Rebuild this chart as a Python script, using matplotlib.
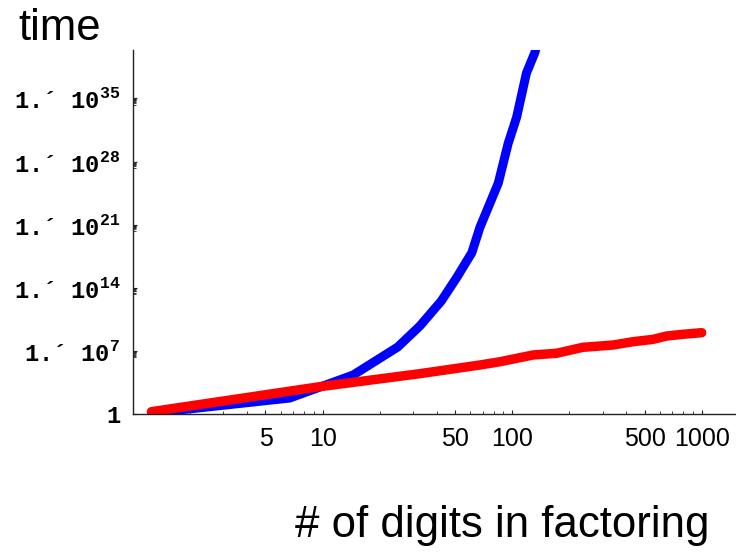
import numpy as np
import matplotlib
matplotlib.use("Agg")
import matplotlib.pyplot as plt
from matplotlib.ticker import FixedLocator, FuncFormatter, NullFormatter

# blue curve (exponential-ish growth)
blue_digits = [1.25, 6.7, 14.5, 24.9, 32.6, 42.3, 51.2, 61.3, 67.6, 84.5, 95.3, 105.6, 119.0, 132.0, 140.0]
blue_log_time = [0.14, 1.8, 4.35, 7.45, 9.78, 12.55, 15.2, 17.9, 20.7, 25.6, 30.0, 32.9, 37.8, 40.1, 42.6]

# red curve (polynomial growth)
red_digits = [1.25, 9.68, 32.6, 67.6, 86.2, 128.8, 171.8, 236, 340, 434, 553, 653, 796, 1000]
red_log_time = [0.29, 3.06, 4.5, 5.46, 5.82, 6.57, 6.76, 7.42, 7.67, 8.04, 8.30, 8.67, 8.86, 9.04]

x_major = [5, 10, 50, 100, 500, 1000]
x_minor = [2, 3, 4, 6, 7, 8, 9, 20, 30, 40, 60, 70, 80, 90, 200, 300, 400, 600, 700, 800, 900]
y_exponents = [0, 7, 14, 21, 28, 35]

# y tick labels are Courier-like bold, superscript included
plt.rcParams['mathtext.fontset'] = 'custom'
plt.rcParams['mathtext.rm'] = 'Liberation Mono:bold'

fig = plt.figure(figsize=(7.36, 5.52), dpi=100)
ax = fig.add_axes([133 / 736, 1 - 414.3 / 552, 1 - 133 / 736, (414.3 - 50) / 552])

ax.plot(blue_digits, 10.0 ** np.array(blue_log_time), color='#0000ff', lw=6.5,
        solid_capstyle='round', solid_joinstyle='round')
ax.plot(red_digits, 10.0 ** np.array(red_log_time), color='#ff0000', lw=6.8,
        solid_capstyle='round', solid_joinstyle='round')

ax.set_xscale('log')
ax.set_yscale('log')
ax.set_xlim(1.0, 1517)
ax.set_ylim(1.0, 10.0 ** 40.35)

for s in ['top', 'right']:
    ax.spines[s].set_visible(False)
for s in ['left', 'bottom']:
    ax.spines[s].set_linewidth(1.0)
    ax.spines[s].set_color('#222222')

ax.xaxis.set_major_locator(FixedLocator(x_major))
ax.xaxis.set_minor_locator(FixedLocator(x_minor))
ax.xaxis.set_major_formatter(FuncFormatter(lambda v, p: '%d' % round(v)))
ax.xaxis.set_minor_formatter(NullFormatter())

y_major = [10.0 ** e for e in y_exponents]
y_minor = []
for e in y_exponents[1:]:
    for m in range(2, 10):
        y_minor.append(m * 10.0 ** (e - 1))
ax.yaxis.set_major_locator(FixedLocator(y_major))
ax.yaxis.set_minor_locator(FixedLocator(y_minor))

ACUTE = '\u00b4'


def ylabel_fmt(v, p):
    e = int(round(np.log10(v)))
    if e == 0:
        return '1'
    return '1.' + ACUTE + ' 10$^{%d}$' % e


ax.yaxis.set_major_formatter(FuncFormatter(ylabel_fmt))
ax.yaxis.set_minor_formatter(NullFormatter())

ax.tick_params(which='major', direction='in', length=3.2, width=0.8, color='#222222')
ax.tick_params(which='minor', direction='in', length=2.0, width=0.6, color='#222222')
ax.tick_params(axis='x', which='major', pad=9, labelsize=18)
ax.tick_params(axis='y', which='major', pad=9, labelsize=17)
for lab in ax.get_xticklabels():
    lab.set_fontfamily('Liberation Sans')
for lab in ax.get_yticklabels():
    lab.set_fontfamily('Liberation Mono')
    lab.set_fontweight('bold')

fig.text(18 / 736, 1 - 40 / 552, 'time', fontsize=31.5, family='Liberation Sans')
fig.text(295 / 736, 1 - 537 / 552, '# of digits in factoring', fontsize=31.5, family='Liberation Sans')

fig.savefig('out.png', dpi=100)
